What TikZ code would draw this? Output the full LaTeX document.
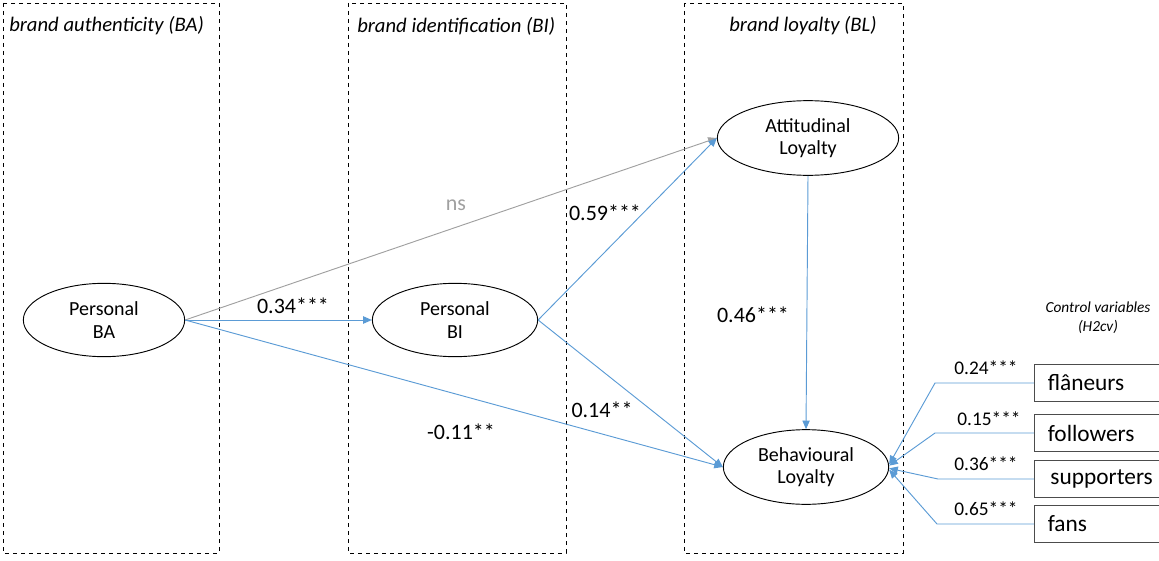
\documentclass[tikz,border=0pt]{standalone}
\usepackage{fontspec}
\setmainfont{Carlito}
\usetikzlibrary{shapes.geometric,arrows.meta}
\definecolor{pathblue}{RGB}{91,155,213}
\definecolor{nsgray}{RGB}{160,160,160}
\begin{document}
\begin{tikzpicture}[x=0.75pt,y=-0.75pt,
  column/.style={draw,dashed,line width=0.6pt},
  coltitle/.style={font=\fontsize{15.5}{18}\selectfont\itshape,inner sep=0pt},
  construct/.style={draw,ellipse,line width=0.7pt,align=center,font=\fontsize{15}{17}\selectfont},
  path/.style={pathblue,line width=0.7pt,-{Triangle[length=6.5pt,width=5.5pt]}},
  coef/.style={font=\fontsize{16.5}{19}\selectfont,inner sep=0pt},
  control/.style={draw=black!70,line width=0.7pt,anchor=west,minimum width=140pt,minimum height=27.5pt,inner xsep=6pt,text width=120pt,font=\fontsize{17.5}{20}\selectfont},
  ccoef/.style={font=\fontsize{14.5}{17}\selectfont,inner sep=0pt}]
\useasboundingbox (0,0) rectangle (1159,560);
% dashed columns
\draw[column] (3,3) rectangle (219,553);
\draw[column] (348,3) rectangle (566,553);
\draw[column] (684,3) rectangle (903,553);
\node[coltitle,anchor=west] (tba) at (9,26) {brand authenticity (BA)};
\node[coltitle,anchor=west] (tbi) at (357,26) {brand identification (BI)};
\node[coltitle] (tbl) at (803,26) {brand loyalty (BL)};
% constructs
\node[construct,minimum width=121pt,minimum height=55pt] (ba) at (104,320) {Personal\\BA};
\node[construct,minimum width=124pt,minimum height=55pt] (bi) at (455,320) {Personal\\BI};
\node[construct,minimum width=136pt,minimum height=56pt] (att) at (808,138) {Attitudinal\\Loyalty};
\node[construct,minimum width=124pt,minimum height=56pt] (beh) at (806,467) {Behavioural\\Loyalty};
% paths
\draw[path] (ba.east) -- (bi.west);
\draw[path,nsgray] (ba.east) -- (att.west);
\draw[path] (ba.east) -- (beh.west);
\draw[path] (bi.east) -- (att.west);
\draw[path] (bi.east) -- (beh.west);
\draw[path] (att.south) -- (beh.north);
\node[coef] (c1) at (293,306) {0.34***};
\node[coef,nsgray] (c2) at (456,205) {ns};
\node[coef] (c3) at (461,432) {-0.11**};
\node[coef] (c4) at (605,213) {0.59***};
\node[coef] (c5) at (602,410) {0.14**};
\node[coef] (c6) at (753,315) {0.46***};
% control variables
\node[font=\fontsize{11.5}{14}\selectfont\itshape,align=center] (cv) at (1098,318) {Control variables\\(H2cv)};
\node[control] (fl) at (1034,383) {flâneurs};
\node[control] (fo) at (1034,433) {followers};
\node[control] (su) at (1034,479) {\hspace*{2pt}supporters};
\node[control] (fa) at (1034,524) {fans};
\draw[path] (fl.west) -- ++(-99,0) -- ([yshift=2pt]beh.east);
\draw[path] (fo.west) -- ++(-99,0) -- ([yshift=1pt]beh.east);
\draw[path] (su.west) -- ++(-96,0) -- ([yshift=-1pt]beh.east);
\draw[path] (fa.west) -- ++(-97,0) -- ([yshift=-2pt]beh.east);
\node[ccoef] (k1) at (986,368) {0.24***};
\node[ccoef] (k2) at (989,419) {0.15***};
\node[ccoef] (k3) at (986,464) {0.36***};
\node[ccoef] (k4) at (986,509) {0.65***};
\end{tikzpicture}
\end{document}
